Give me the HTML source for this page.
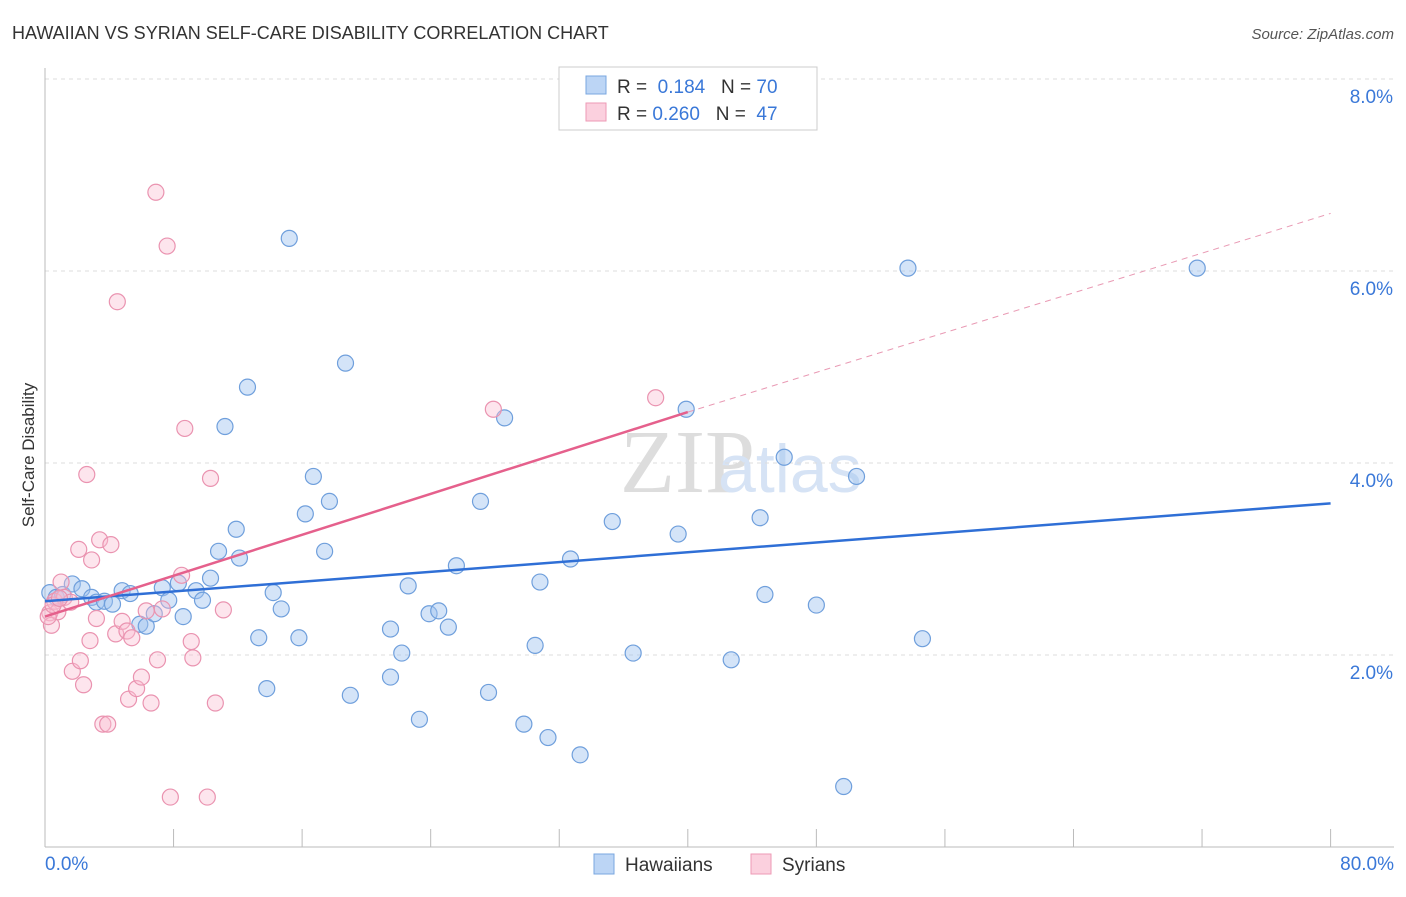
<!DOCTYPE html>
<html><head><meta charset="utf-8"><style>
body{margin:0;background:#fff;font-family:"Liberation Sans",sans-serif}
</style></head><body>
<svg id="c" width="1406" height="892" xmlns="http://www.w3.org/2000/svg">
<text x="12" y="39" font-size="18" fill="#333">HAWAIIAN VS SYRIAN SELF-CARE DISABILITY CORRELATION CHART</text>
<text x="1394" y="39" font-size="15" fill="#555" font-style="italic" text-anchor="end">Source: ZipAtlas.com</text>
<text x="34" y="455" font-size="17" fill="#333" text-anchor="middle" transform="rotate(-90 34 455)">Self-Care Disability</text>
<text x="620" y="492" font-size="90" fill="#ddd" font-family="Liberation Serif,serif">ZIP</text>
<text x="718" y="492" font-size="68" fill="#d6e3f5">atlas</text>
<g id="grid"></g><g id="axes"></g><g id="marks"></g>
<g>
<rect x="559" y="67" width="258" height="63" fill="#fff" stroke="#ccc"/>
<rect x="586" y="76" width="20" height="18" fill="#bcd5f5" stroke="#7aa7e0"/>
<rect x="586" y="103" width="20" height="18" fill="#fbd0de" stroke="#ee9ab5"/>
<text x="617" y="93" font-size="19" fill="#333">R = <tspan fill="#3a78d8">&#160;0.184</tspan>&#160;&#160;&#160;N = <tspan fill="#3a78d8">70</tspan></text>
<text x="617" y="120" font-size="19" fill="#333">R = <tspan fill="#3a78d8">0.260</tspan>&#160;&#160;&#160;N = <tspan fill="#3a78d8">&#160;47</tspan></text>
</g>
<g>
<rect x="594" y="854" width="20" height="20" fill="#bcd5f5" stroke="#7aa7e0"/>
<text x="625" y="871" font-size="19" fill="#333">Hawaiians</text>
<rect x="751" y="854" width="20" height="20" fill="#fbd0de" stroke="#ee9ab5"/>
<text x="782" y="871" font-size="19" fill="#333">Syrians</text>
</g>
</svg>
<script>
const xTicks=[0,8,16,24,32,40,48,56,64,72,80];
const yTicks=[2,4,6,8];
const hawX=[0.3,0.7,1.1,1.7,2.3,2.9,3.2,3.7,4.2,4.8,5.3,5.9,6.3,6.8,7.3,7.7,8.3,8.6,9.4,9.8,10.3,10.8,11.2,11.9,12.1,12.6,13.3,13.8,14.2,14.7,15.2,15.8,16.2,16.7,17.4,17.7,18.7,19.0,21.5,21.5,22.2,22.6,23.3,23.9,24.5,25.1,25.6,27.1,27.6,28.6,29.8,30.5,30.8,31.3,32.7,33.3,35.3,36.6,39.4,39.9,42.7,44.5,44.8,46.0,48.0,49.7,50.5,53.7,54.6,71.7];
const hawY=[2.65,2.6,2.63,2.74,2.69,2.6,2.55,2.56,2.53,2.67,2.64,2.32,2.3,2.43,2.7,2.57,2.75,2.4,2.67,2.57,2.8,3.08,4.38,3.31,3.01,4.79,2.18,1.65,2.65,2.48,6.34,2.18,3.47,3.86,3.08,3.6,5.04,1.58,1.77,2.27,2.02,2.72,1.33,2.43,2.46,2.29,2.93,3.6,1.61,4.47,1.28,2.1,2.76,1.14,3.0,0.96,3.39,2.02,3.26,4.56,1.95,3.43,2.63,4.06,2.52,0.63,3.86,6.03,2.17,6.03];
const syrX=[0.3,0.4,0.6,0.8,1.0,1.2,1.6,1.7,2.1,2.2,2.4,2.6,2.8,2.9,3.2,3.4,3.6,3.9,4.1,4.4,4.5,4.8,5.1,5.2,5.4,5.7,6.0,6.3,6.6,6.9,7.0,7.3,7.6,7.8,8.5,8.7,9.1,9.2,10.1,10.3,10.6,11.1,27.9,38.0,0.2,0.5,0.9];
const syrY=[2.44,2.31,2.56,2.45,2.76,2.6,2.55,1.83,3.1,1.94,1.69,3.88,2.15,2.99,2.38,3.2,1.28,1.28,3.15,2.22,5.68,2.35,2.25,1.54,2.18,1.65,1.77,2.46,1.5,6.82,1.95,2.48,6.26,0.52,2.83,4.36,2.14,1.97,0.52,3.84,1.5,2.47,4.56,4.68,2.4,2.52,2.59];
const hawTrend=[2.56,3.58];
const syrTrend=[2.4,4.53,40,6.6];
const X=v=>45+v*16.07, Y=v=>847-v*96;
const NS="http://www.w3.org/2000/svg";
function mk(t,a,p){const e=document.createElementNS(NS,t);for(const k in a)e.setAttribute(k,a[k]);p.appendChild(e);return e;}
const grid=document.getElementById('grid'),axes=document.getElementById('axes'),marks=document.getElementById('marks');
yTicks.forEach(v=>{const l=mk('line',{x1:45,x2:1394,y1:Y(v),y2:Y(v),stroke:'#ddd','stroke-dasharray':'4 4'},grid);


const t=mk('text',{x:1393,y:Y(v)+24,'font-size':19,fill:'#3a78d8','text-anchor':'end'},axes);t.textContent=v.toFixed(1)+'%';

});
mk('line',{x1:45,x2:45,y1:68,y2:847,stroke:'#bbb'},axes);
mk('line',{x1:45,x2:1394,y1:847,y2:847,stroke:'#bbb'},axes);
xTicks.forEach(v=>{const l=mk('line',{x1:X(v),x2:X(v),y1:829,y2:847,stroke:'#bbb'},axes);

});
[[0,'0.0%','start',45],[80,'80.0%','end',1394]].forEach(([v,s,a,x])=>{const t=mk('text',{x:x,y:870,'font-size':19,fill:'#3a78d8','text-anchor':a},axes);t.textContent=s;

});
hawX.forEach((v,i)=>{const c=mk('circle',{cx:X(v),cy:Y(hawY[i]),r:8,fill:'rgba(160,195,240,0.45)',stroke:'#6f9fdc','stroke-width':1.2},marks);

});
syrX.forEach((v,i)=>{const c=mk('circle',{cx:X(v),cy:Y(syrY[i]),r:8,fill:'rgba(250,190,210,0.4)',stroke:'#ea93b0','stroke-width':1.2},marks);

});
const hl=mk('line',{x1:X(0),y1:Y(hawTrend[0]),x2:X(80),y2:Y(hawTrend[1]),stroke:'#2f6fd6','stroke-width':2.5},marks);


const sl=mk('line',{x1:X(0),y1:Y(syrTrend[0]),x2:X(syrTrend[2]),y2:Y(syrTrend[1]),stroke:'#e5608c','stroke-width':2.5},marks);


const sd=mk('line',{x1:X(syrTrend[2]),y1:Y(syrTrend[1]),x2:X(80),y2:Y(syrTrend[3]),stroke:'#e99ab4','stroke-width':1,'stroke-dasharray':'6 5'},marks);


</script>
</body></html>
